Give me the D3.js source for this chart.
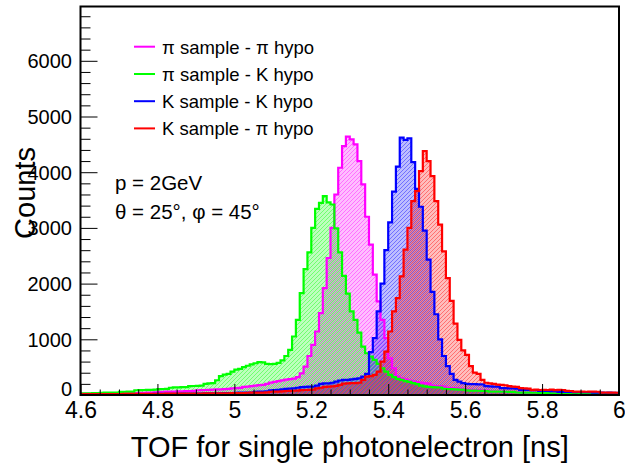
<!DOCTYPE html>
<html><head><meta charset="utf-8">
<script src="https://cdn.jsdelivr.net/npm/d3@7"></script>
<style>
body{margin:0;background:#fff}
svg{display:block}
text{font-family:"Liberation Sans",Arial,Helvetica,sans-serif;fill:#000}
</style>
</head><body>
<svg id="c" width="625" height="469"></svg>
<script>
// ---- data ----
const xMin = 4.6, xMax = 6.0, binWidth = 0.01;
const yMax = 6975;
const xTicks = [4.6, 4.8, 5.0, 5.2, 5.4, 5.6, 5.8, 6.0];
const xTickLabels = ["4.6", "4.8", "5", "5.2", "5.4", "5.6", "5.8", "6"];
const yTicks = [0, 1000, 2000, 3000, 4000, 5000, 6000];
const yTickLabels = ["0", "1000", "2000", "3000", "4000", "5000", "6000"];
const seriesNames = ["π sample - π hypo", "π sample - K hypo", "K sample - K hypo", "K sample - π hypo"];
const seriesColors = ["#ff00ff", "#00ff00", "#0000ff", "#ff0000"];
const xTitle = "TOF for single photonelectron [ns]";
const yTitle = "Counts";
const noteLines = ["p = 2GeV", "θ = 25°, φ = 45°"];

// counts per 0.01 ns bin, from 4.60 to 6.00
const piPi = [
  20,20,22,24,25,25,26,28,28,30,
  30,32,34,35,36,38,40,42,44,48,
  55,58,60,60,62,64,66,72,72,75,
  85,88,90,92,95,100,102,105,110,118,
  122,128,145,150,158,170,178,182,200,222,
  235,250,262,275,285,295,320,390,510,700,
  900,1140,1470,1920,2460,3000,3600,4080,4470,4640,
  4590,4500,4200,3780,3200,2700,2160,1680,1350,1020,
  660,480,330,300,280,260,245,232,222,212,
  205,170,162,160,150,128,122,120,115,110,
  95,92,90,88,85,80,65,62,60,58,
  58,55,55,52,48,44,42,42,40,40,
  38,36,35,32,30,30,30,28,30,28,
  28,26,28,25,26,24,25,24,22,22
];
const piK = [
  28,30,30,32,32,40,42,42,44,45,
  55,58,60,62,85,88,90,92,92,95,
  105,108,110,130,136,138,140,142,158,162,
  165,170,200,210,215,265,340,365,380,420,
  455,470,500,525,550,570,590,585,560,555,
  560,575,620,700,810,1050,1350,1830,2260,2560,
  3000,3340,3450,3570,3460,3420,2990,2560,2140,1820,
  1500,1350,1120,870,750,690,630,560,480,420,
  360,320,290,270,250,235,215,195,170,155,
  145,140,138,135,112,108,105,102,98,95,
  82,80,78,76,75,72,62,60,60,58,
  58,56,55,45,44,42,42,40,40,38,
  36,32,30,30,30,28,30,28,28,26,
  26,28,25,26,24,25,24,22,22,20
];
const KK = [
  10,10,10,12,12,12,12,14,14,14,
  15,15,16,16,16,18,18,18,18,20,
  20,20,20,22,22,22,24,24,25,25,
  26,26,28,28,28,30,30,32,32,35,
  40,42,42,44,45,58,60,62,65,85,
  90,92,100,110,115,120,130,140,145,150,
  150,170,200,210,210,220,240,260,270,272,
  280,290,300,330,380,770,1020,1500,2000,2600,
  3100,3650,4100,4620,4580,4610,4180,3700,3380,2950,
  2430,1850,1450,1000,700,520,380,270,240,215,
  200,196,194,192,190,158,155,152,150,124,
  122,120,118,116,92,90,90,88,88,74,
  72,72,70,70,56,55,54,54,52,54,
  52,50,52,44,42,42,40,42,40,40
];
const Kpi = [
  15,15,16,16,16,17,17,18,18,18,
  18,19,19,20,20,20,20,21,21,22,
  22,22,23,23,24,24,24,25,25,26,
  26,27,28,28,29,30,30,30,31,32,
  32,33,34,40,42,42,44,44,48,58,
  60,62,64,72,75,76,78,88,90,92,
  95,120,130,145,150,155,165,180,205,210,
  212,215,220,270,330,340,360,420,600,780,
  1140,1500,1740,2130,2610,3000,3480,3660,4020,4380,
  4200,3930,3480,3060,2580,2100,1690,1280,990,800,
  720,520,400,380,270,220,210,200,185,180,
  175,160,150,145,125,120,115,92,95,90,
  92,90,95,88,92,90,75,72,60,62,
  60,58,62,60,58,44,45,42,44,40
];
const seriesValues = [piPi, piK, KK, Kpi];

// ---- layout ----
const L = 80.5, R = 619, T = 6.5, B = 395;
const svg = d3.select("#c");
const x = d3.scaleLinear().domain([xMin, xMax]).range([L, R]);
const y = d3.scaleLinear().domain([0, yMax]).range([B, T]);

const defs = svg.append("defs");
defs.append("clipPath").attr("id", "plotclip")
  .append("rect").attr("x", L).attr("y", T).attr("width", R - L).attr("height", B - T);
// pixel-crisp diagonal hatch, one tile per series (offset so overlaps interleave)
const hatchOffset = [0, 2, 1, 3];
seriesColors.forEach((c, i) => {
  const p = defs.append("pattern").attr("id", "hatch" + i)
    .attr("patternUnits", "userSpaceOnUse").attr("x", 0).attr("y", 0)
    .attr("width", 4).attr("height", 4);
  p.append("rect").attr("width", 4).attr("height", 4).attr("fill", c).attr("fill-opacity", 0.26);
  for (let k = 0; k < 4; k++) {
    const px = (k + hatchOffset[i]) % 4;
    p.append("rect").attr("x", px).attr("y", 3 - k).attr("width", 1).attr("height", 1)
      .attr("fill", c).attr("fill-opacity", 0.4).attr("shape-rendering", "crispEdges");
  }
});

// ---- histograms ----
function stepPoints(vals) {
  const pts = [[xMin, 0]];
  vals.forEach((v, i) => {
    const a = xMin + i * binWidth;
    pts.push([a, v], [a + binWidth, v]);
  });
  pts.push([xMin + vals.length * binWidth, 0]);
  return pts;
}
const line = d3.line().x(d => x(d[0])).y(d => y(d[1]));
const area = d3.area().x(d => x(d[0])).y0(y(0)).y1(d => y(d[1]));
const gH = svg.append("g").attr("clip-path", "url(#plotclip)");
seriesValues.forEach((vals, i) => {
  gH.append("path").attr("d", area(stepPoints(vals))).attr("fill", "url(#hatch" + i + ")");
});
seriesValues.forEach((vals, i) => {
  gH.append("path").attr("d", line(stepPoints(vals))).attr("fill", "none")
    .attr("stroke", seriesColors[i]).attr("stroke-width", 2.2).attr("stroke-linejoin", "miter");
});

// ---- axes ----
const xMinor = d3.range(0, 29).map(i => xMin + i * 0.05).filter(v => !xTicks.some(t => Math.abs(t - v) < 1e-6));
const yMinor = d3.range(0, 35).map(i => i * 200).filter(v => v % 1000 !== 0 && v <= yMax);

const gxm = svg.append("g").attr("transform", `translate(0,${B})`)
  .call(d3.axisBottom(x).tickValues(xMinor).tickSize(-5.5).tickFormat(""));
const gx = svg.append("g").attr("transform", `translate(0,${B})`)
  .call(d3.axisBottom(x).tickValues(xTicks).tickSize(-11).tickPadding(7)
    .tickFormat((d, i) => xTickLabels[i]));
const gym = svg.append("g").attr("transform", `translate(${L},0)`)
  .call(d3.axisLeft(y).tickValues(yMinor).tickSize(-10).tickFormat(""));
const gy = svg.append("g").attr("transform", `translate(${L},0)`)
  .call(d3.axisLeft(y).tickValues(yTicks).tickSize(-17).tickPadding(8.5)
    .tickFormat((d, i) => yTickLabels[i]));
[gxm, gx, gym, gy].forEach(g => {
  g.select(".domain").remove();
  g.selectAll(".tick line").attr("stroke", "#000").attr("stroke-width", 1);
});
gx.selectAll("text").attr("font-size", 23).attr("font-family", null).attr("fill", "#000");
gy.selectAll("text").attr("font-size", 20).attr("font-family", null).attr("fill", "#000")
  .attr("dy", d => d === 0 ? "0em" : "0.34em");

// frame
svg.append("rect").attr("x", L).attr("y", T).attr("width", R - L).attr("height", B - T)
  .attr("fill", "none").attr("stroke", "#000").attr("stroke-width", 2);

// titles
svg.append("text").attr("x", (L + R) / 2).attr("y", 457).attr("text-anchor", "middle")
  .attr("font-size", 29).text(xTitle);
svg.append("text").attr("transform", "translate(35,193) rotate(-90)").attr("text-anchor", "middle")
  .attr("font-size", 29).text(yTitle);

// legend
const legY = [46.7, 74, 101.2, 128.4];
seriesNames.forEach((n, i) => {
  svg.append("line").attr("x1", 134).attr("x2", 155).attr("y1", legY[i]).attr("y2", legY[i])
    .attr("stroke", seriesColors[i]).attr("stroke-width", 2);
  svg.append("text").attr("x", 162).attr("y", legY[i] + 6.8).attr("font-size", 18.5)
    .attr("fill", "#111").text(n);
});

// annotation
svg.append("text").attr("x", 115).attr("y", 189.5).attr("font-size", 20.5).text(noteLines[0]);
svg.append("text").attr("x", 115).attr("y", 218.5).attr("font-size", 20.5).text(noteLines[1]);
</script>
</body></html>
